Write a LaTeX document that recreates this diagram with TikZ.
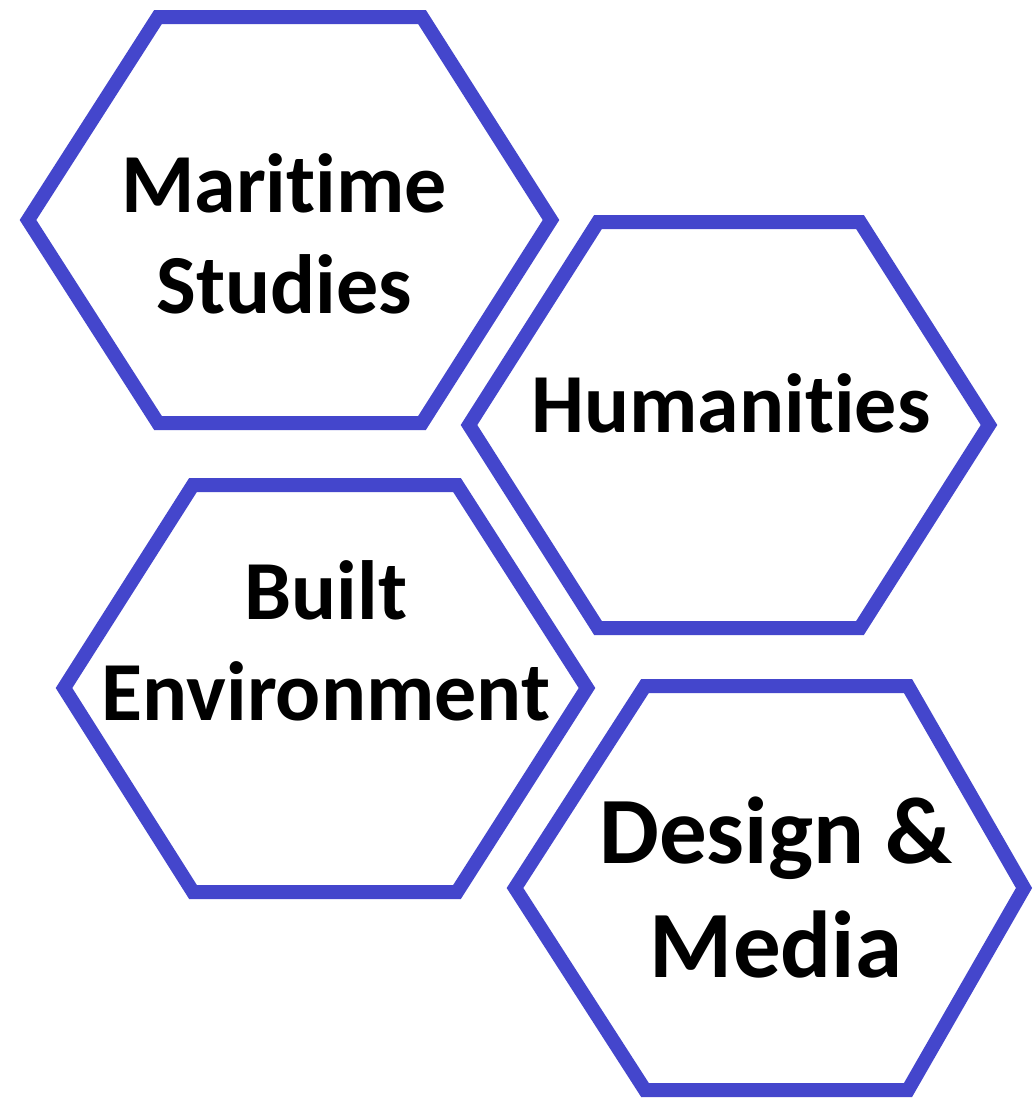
\documentclass[tikz,border=0pt]{standalone}
\usepackage{fontspec}
\setmainfont{Carlito}[RawFeature={-liga,-dlig}]
\definecolor{hexblue}{RGB}{68,70,204}
\begin{document}
\begin{tikzpicture}[x=1pt,y=-1pt,
  hexline/.style={draw=hexblue,line width=14pt,line join=miter},
  label84/.style={font=\bfseries\fontsize{84}{101}\selectfont,align=center,anchor=base,inner sep=0pt,text=black},
  label95/.style={font=\bfseries\fontsize{95}{114}\selectfont,align=center,anchor=base,inner sep=0pt,text=black}]
\path[use as bounding box,fill=white] (0,0) rectangle (1033,1098);
\begin{scope}
\clip (0,0) rectangle (1033,1098);
% Maritime Studies
\draw[hexline] (158,17) -- (422,17) -- (551,220) -- (422,423) -- (158,423) -- (28,220) -- cycle;
% Humanities
\draw[hexline] (598,222) -- (860,222) -- (989,425) -- (860,628) -- (598,628) -- (469,425) -- cycle;
% Built Environment
\draw[hexline] (193,485) -- (457,485) -- (587,688) -- (457,892) -- (193,892) -- (64,688) -- cycle;
% Design & Media
\draw[hexline] (645,686) -- (908,686) -- (1024,888) -- (908,1090) -- (645,1090) -- (515,888) -- cycle;
\end{scope}
\node[label84] (maritime) at (284,313) {Maritime\\Studies};
\node[label84] (humanities) at (731,432) {Humanities};
\node[label84] (built) at (326,720) {Built\\Environment};
\node[label95] (design) at (776,977) {Design \&\\Media};
\end{tikzpicture}
\end{document}
